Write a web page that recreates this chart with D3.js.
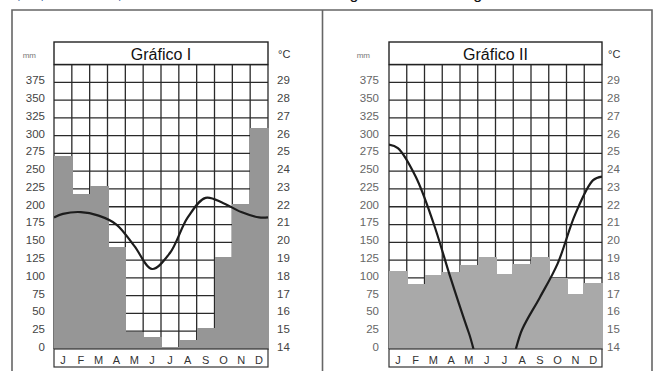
<!DOCTYPE html>
<html>
<head>
<meta charset="utf-8">
<script src="https://cdn.jsdelivr.net/npm/d3@7"></script>
<style>
  body { margin: 0; background: #fff; }
  svg { display: block; font-family: 'Liberation Sans', Arial, sans-serif; }
</style>
</head>
<body>
<div id="chart"></div>
<script>
// months and tick labels
const months = ['J', 'F', 'M', 'A', 'M', 'J', 'J', 'A', 'S', 'O', 'N', 'D']
const mmTicks = [0, 25, 50, 75, 100, 125, 150, 175, 200, 225, 250, 275, 300, 325, 350, 375]
const tempTicks = [14, 15, 16, 17, 18, 19, 20, 21, 22, 23, 24, 25, 26, 27, 28, 29]

// Gráfico I : rainfall (mm) and temperature (°C) per month
const rainI = [272, 218, 229, 143, 24, 17, 3, 13, 29, 130, 204, 311]
const tempI = [21.6, 21.7, 21.5, 21.0, 19.8, 18.5, 19.4, 21.4, 22.5, 22.2, 21.7, 21.4]
const tempIEdges = [21.4, 21.4] // value of the curve at the start / end of the year

// Gráfico II
const rainII = [109, 92, 104, 108, 118, 129, 105, 119, 129, 100, 78, 93]
const tempII = [25.3, 23.7, 21.1, 17.9, 14.9, 12.2, 12.4, 15.1, 16.9, 18.8, 21.6, 23.5]
const tempIIEdges = [25.5, 23.7]

const W = 656
const H = 371

const svg = d3.select('#chart')
  .append('svg')
  .attr('width', W)
  .attr('height', H)

// bits of the cut-off text above the panels (only descenders show)
svg.append('text')
  .attr('y', -0.8)
  .attr('font-family', 'Calibri, Carlito, Liberation Sans, sans-serif')
  .attr('font-size', 15)
  .attr('fill', '#2b5a9e')
  .call(t => {
    t.append('tspan').attr('x', 10).text('5)')
    t.append('tspan').attr('x', 39).text('(UFRGS 2018)')
  })
svg.append('text')
  .attr('x', 282)
  .attr('y', -0.8)
  .attr('font-size', 16)
  .attr('fill', '#111')
  .text('dos climogramas I e II a seguir')

// panel frames
const frame = svg.append('g')
  .attr('stroke', '#666')
  .attr('stroke-width', 1.6)
  .attr('fill', 'none')
frame.append('path').attr('d', 'M12,371V10H652V371')
frame.append('line').attr('x1', 322.5).attr('x2', 322.5).attr('y1', 10).attr('y2', 371)

/** Draws one climate chart (rain bars + temperature curve). */
function drawChart (cfg) {
  const g = svg.append('g')
  const x = d3.scaleBand()
    .domain(d3.range(12))
    .range([cfg.x0, cfg.x1])
    .padding(0)
  const y = d3.scaleLinear().domain([0, 400]).range([349, 64.5])
  const yT = d3.scaleLinear().domain([14, 30]).range([349, 64.5])
  const bw = x.bandwidth()

  // grid
  const grid = g.append('g')
    .attr('stroke', '#2a2a2a')
    .attr('stroke-width', 1.3)
  grid.selectAll('.h')
    .data(d3.range(0, 401, 25))
    .enter()
    .append('line')
    .attr('x1', cfg.x0)
    .attr('x2', cfg.x1)
    .attr('y1', d => y(d))
    .attr('y2', d => y(d))
  grid.selectAll('.v')
    .data(d3.range(13))
    .enter()
    .append('line')
    .attr('x1', d => cfg.x0 + d * bw)
    .attr('x2', d => cfg.x0 + d * bw)
    .attr('y1', y(0))
    .attr('y2', y(400))

  // rain bars
  g.append('g')
    .attr('shape-rendering', 'crispEdges')
    .selectAll('rect')
    .data(cfg.rain)
    .enter()
    .append('rect')
    .attr('x', (d, i) => x(i))
    .attr('y', d => y(d))
    .attr('width', bw + 1)
    .attr('height', d => y(0) - y(d) + 1)
    .attr('fill', cfg.gray)

  // temperature curve
  const clipId = 'clip' + cfg.id
  g.append('clipPath')
    .attr('id', clipId)
    .append('rect')
    .attr('x', cfg.x0)
    .attr('y', y(400))
    .attr('width', cfg.x1 - cfg.x0)
    .attr('height', y(0) - y(400))
  const pts = [[cfg.x0, cfg.edges[0]]]
    .concat(cfg.temp.map((t, i) => [x(i) + bw / 2, t]))
    .concat([[cfg.x1, cfg.edges[1]]])
  g.append('path')
    .datum(pts)
    .attr('clip-path', 'url(#' + clipId + ')')
    .attr('fill', 'none')
    .attr('stroke', '#1c1c1c')
    .attr('stroke-width', 2.2)
    .attr('d', d3.line()
      .x(d => d[0])
      .y(d => yT(d[1]))
      .curve(d3.curveCatmullRom.alpha(0.5)))

  // title box
  g.append('rect')
    .attr('x', cfg.x0)
    .attr('y', 42)
    .attr('width', cfg.x1 - cfg.x0)
    .attr('height', y(400) - 42)
    .attr('fill', '#fff')
    .attr('stroke', '#222')
    .attr('stroke-width', 1.4)
  g.append('text')
    .attr('x', (cfg.x0 + cfg.x1) / 2)
    .attr('y', 59.5)
    .attr('text-anchor', 'middle')
    .attr('font-size', 16)
    .attr('fill', '#111')
    .text(cfg.title)

  // month box
  g.append('rect')
    .attr('x', cfg.x0)
    .attr('y', y(0))
    .attr('width', cfg.x1 - cfg.x0)
    .attr('height', 18)
    .attr('fill', '#fff')
    .attr('stroke', '#333')
    .attr('stroke-width', 1.2)
  g.append('g')
    .selectAll('text')
    .data(months)
    .enter()
    .append('text')
    .attr('x', (d, i) => x(i) + bw / 2)
    .attr('y', 364)
    .attr('text-anchor', 'middle')
    .attr('font-size', 11)
    .attr('fill', '#333')
    .text(d => d)

  // axes
  const left = g.append('g')
    .attr('transform', 'translate(' + cfg.x0 + ',0)')
    .call(d3.axisLeft(y).tickValues(mmTicks).tickSize(0).tickPadding(cfg.padL))
  const right = g.append('g')
    .attr('transform', 'translate(' + cfg.x1 + ',0)')
    .call(d3.axisRight(yT).tickValues(tempTicks).tickSize(0).tickPadding(cfg.padR))
  ;[left, right].forEach(a => {
    a.select('.domain').remove()
    a.selectAll('text')
      .attr('font-family', 'Liberation Sans, Arial, sans-serif')
      .attr('font-size', 11.5)
      .attr('fill', cfg.labelColor)
      .attr('dy', '0.12em')
  })

  g.append('text')
    .attr('x', cfg.x0 - cfg.padL - 9)
    .attr('y', 58)
    .attr('text-anchor', 'end')
    .attr('font-size', 8)
    .attr('fill', '#777')
    .text('mm')
  g.append('text')
    .attr('x', cfg.x1 + cfg.padR + 1)
    .attr('y', 58)
    .attr('font-size', 11)
    .attr('fill', '#333')
    .text('°C')
}

drawChart({
  id: 1,
  title: 'Gráfico I',
  x0: 54,
  x1: 268,
  padL: 9,
  padR: 9,
  gray: '#969696',
  labelColor: '#444',
  rain: rainI,
  temp: tempI,
  edges: tempIEdges
})

drawChart({
  id: 2,
  title: 'Gráfico II',
  x0: 389,
  x1: 602,
  padL: 10,
  padR: 5,
  gray: '#a9a9a9',
  labelColor: '#666',
  rain: rainII,
  temp: tempII,
  edges: tempIIEdges
})
</script>
</body>
</html>
